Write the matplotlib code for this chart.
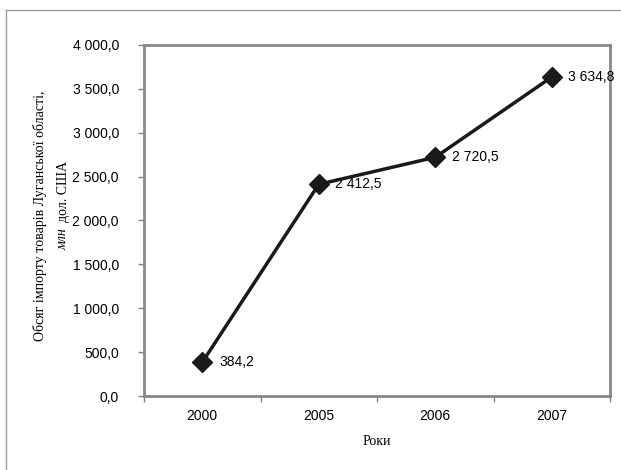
import matplotlib
matplotlib.use("Agg")
import matplotlib.pyplot as plt
from matplotlib.lines import Line2D

years = ["2000", "2005", "2006", "2007"]
values = [384.2, 2412.5, 2720.5, 3634.8]
value_labels = ["384,2", "2 412,5", "2 720,5", "3 634,8"]
yticks = [0, 500, 1000, 1500, 2000, 2500, 3000, 3500, 4000]
ytick_labels = ["0,0", "500,0", "1 000,0", "1 500,0", "2 000,0", "2 500,0",
                "3 000,0", "3 500,0", "4 000,0"]

W, H = 621, 470
fig = plt.figure(figsize=(W / 100, H / 100), dpi=100)
fig.patch.set_facecolor("white")

ax = fig.add_axes([144 / W, 1 - 396 / H, (610 - 144) / W, (396 - 45) / H])

x = list(range(len(years)))
ax.plot(x, values, color="#1a1a1a", lw=2.5, marker="D", markersize=10,
        markerfacecolor="#1a1a1a", markeredgecolor="#1a1a1a", zorder=3)
for xi, v, lab in zip(x, values, value_labels):
    ax.annotate(lab, (xi, v), xytext=(12, 0), textcoords="offset points",
                ha="left", va="center", fontsize=10, family="Liberation Sans",
                color="black")

ax.set_xlim(-0.5, len(years) - 0.5)
ax.set_ylim(0, 4000)
ax.set_yticks(yticks)
ax.set_yticklabels(ytick_labels, family="Liberation Sans", fontsize=10)
ax.set_xticks([i - 0.5 for i in range(len(years) + 1)])
ax.set_xticklabels([])
ax.set_xticks(x, minor=True)
ax.set_xticklabels(years, minor=True, family="Liberation Sans", fontsize=10)
ax.tick_params(axis="x", which="minor", length=0, pad=9)
ax.tick_params(axis="x", which="major", length=4, color="#808080", width=1)
ax.tick_params(axis="y", length=4, color="#808080", width=1, pad=14)

for s in ax.spines.values():
    s.set_color("#888888")
    s.set_linewidth(2)

ax.set_xlabel("Роки", family="Liberation Serif", fontsize=10, labelpad=9)

fig.text(40 / W, 1 - 216 / H, "Обсяг імпорту товарів Луганської області,",
         rotation=90, ha="center", va="center", family="Liberation Serif",
         fontsize=10)
fig.text(63 / W, 1 - 250 / H, "млн", rotation=90, ha="center",
         va="bottom", family="Liberation Serif", style="italic", fontsize=10)
fig.text(63 / W, 1 - 222 / H, "дол. США", rotation=90, ha="center",
         va="bottom", family="Liberation Serif", fontsize=10)

# outer frame (top and left visible)
fig.add_artist(Line2D([6 / W, 1], [1 - 10 / H, 1 - 10 / H], color="#999999",
                      lw=1, transform=fig.transFigure))
fig.add_artist(Line2D([6 / W, 6 / W], [0, 1 - 10 / H], color="#999999",
                      lw=1, transform=fig.transFigure))

fig.savefig("out.png", dpi=100)
